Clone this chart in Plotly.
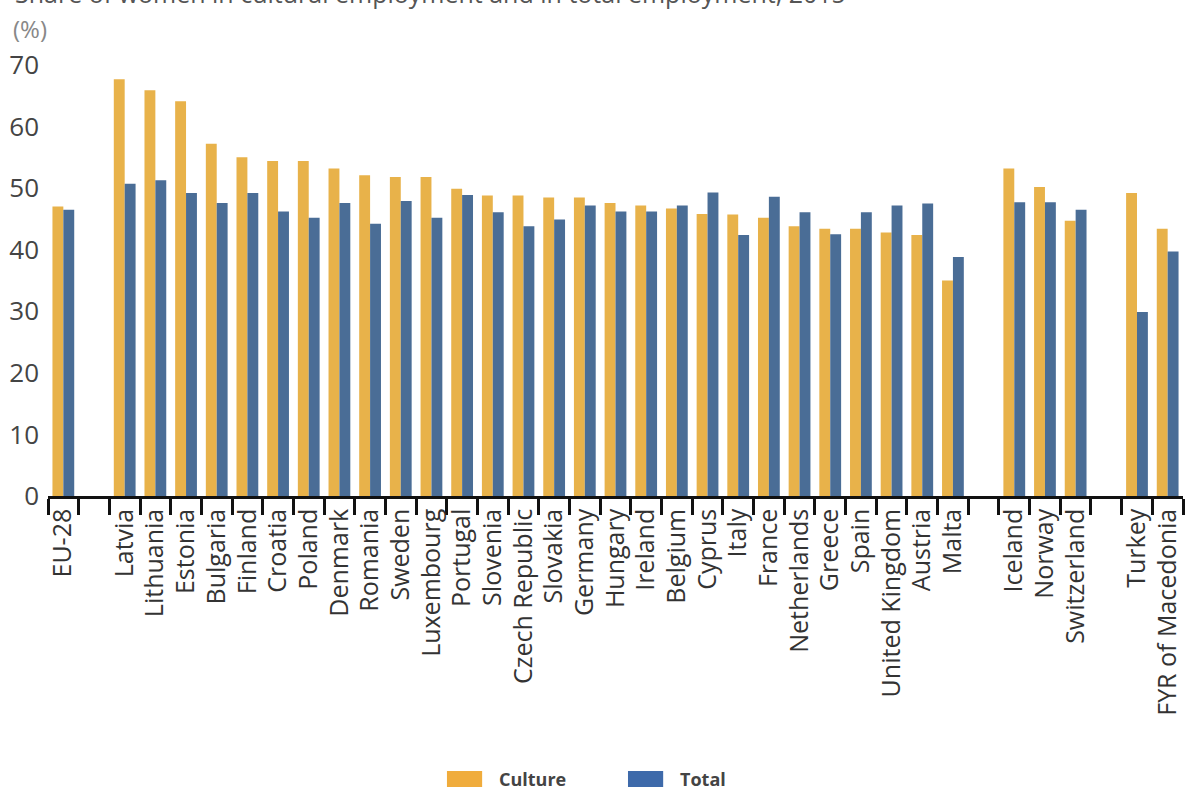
import plotly.graph_objects as go

# Categories (blank entries are the gaps between country groups)
countries = ["EU-28", " ",
             "Latvia", "Lithuania", "Estonia", "Bulgaria", "Finland", "Croatia",
             "Poland", "Denmark", "Romania", "Sweden", "Luxembourg", "Portugal",
             "Slovenia", "Czech Republic", "Slovakia", "Germany", "Hungary",
             "Ireland", "Belgium", "Cyprus", "Italy", "France", "Netherlands",
             "Greece", "Spain", "United Kingdom", "Austria", "Malta", "  ",
             "Iceland", "Norway", "Switzerland", "   ",
             "Turkey", "FYR of Macedonia"]

culture = [47.0, None,
           67.7, 65.9, 64.1, 57.2, 55.0, 54.4,
           54.4, 53.2, 52.1, 51.8, 51.8, 49.9,
           48.8, 48.8, 48.5, 48.5, 47.6,
           47.2, 46.7, 45.8, 45.7, 45.2, 43.8,
           43.4, 43.4, 42.8, 42.4, 35.0, None,
           53.2, 50.2, 44.7, None,
           49.2, 43.4]

total = [46.5, None,
         50.7, 51.3, 49.2, 47.6, 49.2, 46.2,
         45.2, 47.6, 44.2, 47.9, 45.2, 48.9,
         46.1, 43.8, 44.9, 47.2, 46.2,
         46.2, 47.2, 49.3, 42.4, 48.6, 46.1,
         42.5, 46.1, 47.2, 47.5, 38.8, None,
         47.7, 47.7, 46.5, None,
         29.9, 39.7]

y_ticks = [0, 10, 20, 30, 40, 50, 60, 70]

series_names = ["Culture", "Total"]
bar_colors = ["#E8B24A", "#4A6D96"]
legend_colors = ["#F0AC3C", "#3E6AAA"]

title_text = "Share of women in cultural employment and in total employment, 2015"

fig = go.Figure()
fig.add_trace(go.Bar(x=countries, y=culture, name=series_names[0],
                     marker=dict(color=bar_colors[0], line=dict(width=0))))
fig.add_trace(go.Bar(x=countries, y=total, name=series_names[1],
                     marker=dict(color=bar_colors[1], line=dict(width=0))))

fig.update_layout(
    width=1186, height=796,
    margin=dict(l=48, r=3, t=65, b=300),
    paper_bgcolor="white", plot_bgcolor="white",
    barmode="group", bargap=0.29, bargroupgap=0,
    font=dict(family="Open Sans, sans-serif", color="#333"),
    showlegend=False,
)

fig.update_xaxes(
    type="category", categoryorder="array", categoryarray=countries,
    range=[-0.5, len(countries) - 0.5],
    tickson="boundaries", ticks="outside", ticklen=16, tickwidth=3, tickcolor="#111",
    showline=True, linewidth=2.5, linecolor="#111",
    tickangle=-90, tickfont=dict(size=25, color="#333"),
    showgrid=False, zeroline=False,
)

fig.update_yaxes(
    range=[0, 70], tickvals=y_ticks, ticks="", showline=False,
    showgrid=False, zeroline=False,
    tickfont=dict(size=26, color="#444"), ticklabelstandoff=8,
)

# (%) unit label
fig.add_annotation(text="(%)", xref="paper", yref="paper", x=-0.033, y=1.085,
                   xanchor="left", yanchor="middle", showarrow=False,
                   font=dict(size=24, color="#888"))

# title, mostly cropped off at the top like the source image
fig.add_annotation(text=title_text, xref="paper", yref="paper", x=-0.031, y=1.124,
                   xanchor="left", yanchor="bottom", showarrow=False,
                   font=dict(size=25, color="#555"))

# legend drawn by hand: wide swatches under the axis labels
legend_x = [0.3515, 0.511]
for name, col, lx in zip(series_names, legend_colors, legend_x):
    fig.add_shape(type="rect", xref="paper", yref="paper",
                  x0=lx, x1=lx + 0.031, y0=-0.675, y1=-0.638,
                  fillcolor=col, line=dict(width=0))
    fig.add_annotation(text="<b>" + name + "</b>", xref="paper", yref="paper",
                       x=lx + 0.044, y=-0.657, xanchor="left", yanchor="middle",
                       showarrow=False, font=dict(size=18, color="#444"))

fig.write_html("out.html", config={"displayModeBar": False},
               post_script="document.body.style.margin='0';")
